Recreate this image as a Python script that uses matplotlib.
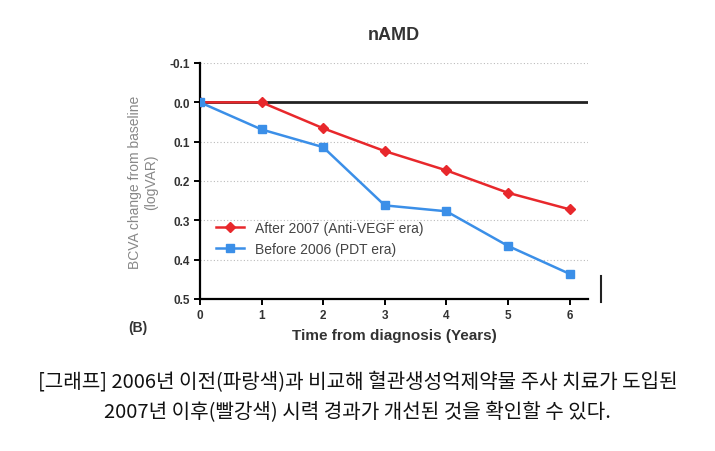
import matplotlib.pyplot as plt
import numpy as np

years = [0, 1, 2, 3, 4, 5, 6]
after_2007 = [0.0, 0.0, 0.066, 0.124, 0.173, 0.230, 0.272]
before_2006 = [0.0, 0.069, 0.114, 0.262, 0.277, 0.365, 0.436]
y_ticks = [-0.1, 0.0, 0.1, 0.2, 0.3, 0.4, 0.5]
caption = ["[그래프] 2006년 이전(파랑색)과 비교해 혈관생성억제약물 주사 치료가 도입된",
           "2007년 이후(빨강색) 시력 경과가 개선된 것을 확인할 수 있다."]

plt.rcParams['font.family'] = ['Liberation Sans', 'DejaVu Sans']

fig = plt.figure(figsize=(7.15, 4.52), dpi=100)
ax = fig.add_axes([200/715, 1 - 300/452, 388/715, 236/452])

for yv in y_ticks:
    if yv != 0.0:
        ax.axhline(yv, color='#bbbbbb', linestyle=(0, (1, 2)), linewidth=0.8, zorder=0)
ax.axhline(0.0, color='#222222', linewidth=2, zorder=1)

ax.plot(years, after_2007, color='#e8282c', marker='D', markersize=5, linewidth=1.8,
        label='After 2007 (Anti-VEGF era)', zorder=2)
ax.plot(years, before_2006, color='#3b8fe8', marker='s', markersize=6, linewidth=1.8,
        label='Before 2006 (PDT era)', zorder=3)

ax.set_xlim(0, 6.3)
ax.set_ylim(0.5, -0.1)
ax.set_yticks(y_ticks)
ax.set_yticklabels(['%.1f' % v for v in y_ticks], fontsize=8.5, fontweight='bold', color='#333333')
ax.set_xticks(years)
ax.set_xticklabels([str(v) for v in years], fontsize=8.5, fontweight='bold', color='#333333')
ax.spines['top'].set_visible(False)
ax.spines['right'].set_visible(False)
ax.spines['left'].set_linewidth(1.6)
ax.spines['bottom'].set_linewidth(1.6)
ax.tick_params(width=1.4, length=4)

ax.set_title('nAMD', fontsize=13, fontweight='bold', color='#333333', pad=17)
ax.set_xlabel('Time from diagnosis (Years)', fontsize=11, fontweight='bold', color='#333333', labelpad=5)
ax.set_ylabel('BCVA change from baseline\n(logVAR)', fontsize=10, color='#888888', labelpad=8)

ax.legend(loc='upper left', bbox_to_anchor=(0.01, 0.385), frameon=False, fontsize=10,
          handlelength=2, labelcolor='#444444')

fig.text(138/715, 1 - 328/452, '(B)', fontsize=10, fontweight='bold', color='#333333',
         ha='center', va='center')
fig.add_artist(plt.Line2D([601/715, 601/715], [1 - 277/452, 1 - 303/452], color='#222222', linewidth=1.5))

for i, line in enumerate(caption):
    fig.text(0.5, 1 - (383 + 30*i)/452, line, fontsize=14.5, ha='center', va='center',
             family=['Noto Sans CJK KR', 'DejaVu Sans'], color='#111111')

fig.savefig('out.png', dpi=100)
